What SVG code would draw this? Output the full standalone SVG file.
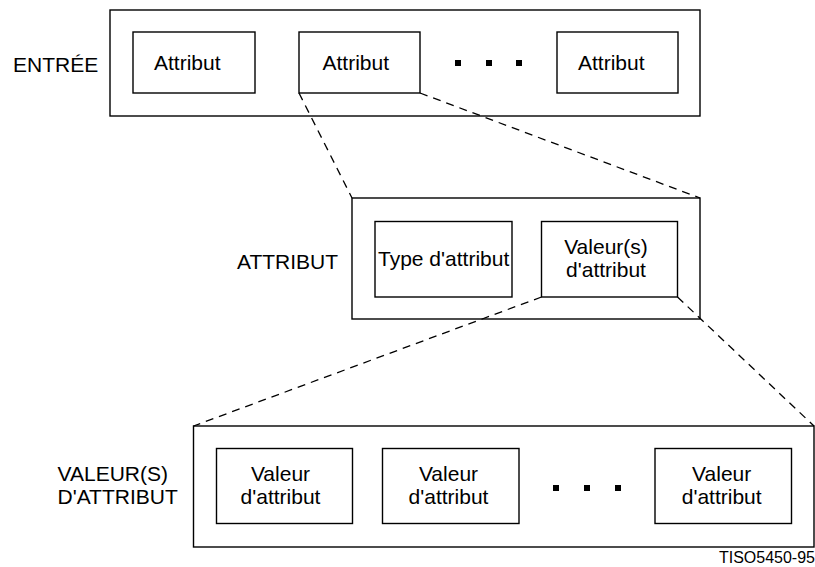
<svg xmlns="http://www.w3.org/2000/svg" width="815" height="567" viewBox="0 0 815 567">
<style>
rect{fill:#fff;stroke:#000;stroke-width:1.4}
text{font-family:"Liberation Sans",Arial,sans-serif;font-size:21px;fill:#000}
.c{text-anchor:middle}
.lbl{font-size:21px}
.dot{fill:#000;stroke:none}
#connectors line{stroke:#000;stroke-width:1.3;stroke-dasharray:8 6;fill:none}
</style>
<rect width="815" height="567" style="stroke:none"/>
<g id="entree">
<text class="lbl" x="13" y="71.5">ENTRÉE</text>
<rect x="110" y="10" width="590" height="106"/>
</g>
<g id="attr1"><rect x="133" y="32" width="122" height="61"/><text x="154" y="70">Attribut</text></g>
<g id="attr2"><rect x="299" y="32" width="121" height="61"/><text x="322.5" y="70">Attribut</text></g>
<g id="dots1"><rect class="dot" x="455" y="60" width="6" height="6"/><rect class="dot" x="486" y="60" width="6" height="6"/><rect class="dot" x="516" y="60" width="6" height="6"/></g>
<g id="attr3"><rect x="557" y="32" width="121" height="61"/><text x="578" y="70">Attribut</text></g>
<g id="attribut">
<text class="lbl" x="237" y="269">ATTRIBUT</text>
<rect x="352" y="198" width="348" height="121"/>
</g>
<g id="type"><rect x="375" y="221.5" width="137" height="75.5"/><text x="378" y="266">Type d'attribut</text></g>
<g id="valeurs"><rect x="541.5" y="221.5" width="136" height="75.5"/><text class="c" x="606" y="254">Valeur(s)</text><text class="c" x="606" y="277">d'attribut</text></g>
<g id="valeursattr">
<text class="lbl" x="57.5" y="481">VALEUR(S)</text>
<text class="lbl" x="57.5" y="504">D'ATTRIBUT</text>
<rect x="193.5" y="426" width="620.5" height="121"/>
</g>
<g id="val1"><rect x="216.5" y="448.5" width="136" height="75"/><text class="c" x="280.5" y="481">Valeur</text><text class="c" x="280.5" y="504">d'attribut</text></g>
<g id="val2"><rect x="382.5" y="448.5" width="136.5" height="75"/><text class="c" x="448.5" y="481">Valeur</text><text class="c" x="448.5" y="504">d'attribut</text></g>
<g id="dots2"><rect class="dot" x="553" y="485" width="6" height="6"/><rect class="dot" x="584" y="485" width="6" height="6"/><rect class="dot" x="615" y="485" width="6" height="6"/></g>
<g id="val3"><rect x="655" y="448.5" width="136.5" height="75"/><text class="c" x="721.7" y="481">Valeur</text><text class="c" x="721.7" y="504">d'attribut</text></g>
<g id="connectors">
<line x1="299" y1="93" x2="352" y2="198"/>
<line x1="420" y1="93" x2="700" y2="198"/>
<line x1="541.5" y1="297" x2="193.5" y2="426"/>
<line x1="677.5" y1="297" x2="814" y2="426"/>
</g>
<text x="815" y="563" style="font-size:16px;text-anchor:end">TISO5450-95</text>
</svg>
